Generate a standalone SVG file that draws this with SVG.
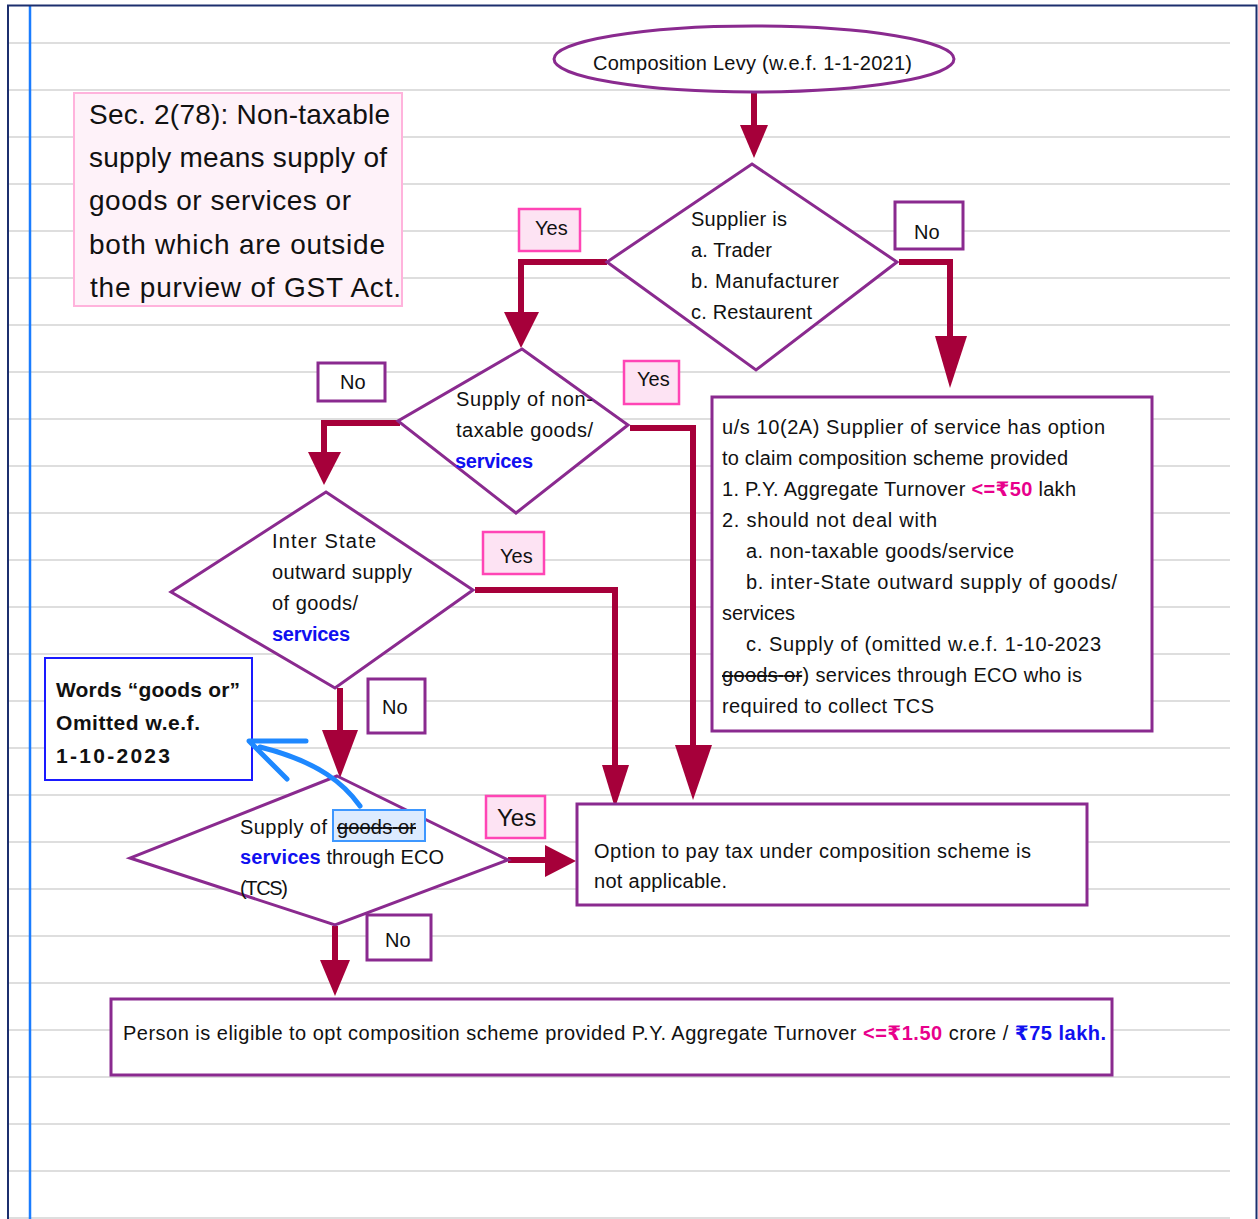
<svg xmlns="http://www.w3.org/2000/svg" width="1258" height="1219" viewBox="0 0 1258 1219">
  <defs>
    <style>
      text { font-family: "Liberation Sans", "DejaVu Sans", sans-serif; fill: #111; }
      .rule { stroke: #dedede; stroke-width: 2; }
      .shape { fill: #fff; stroke: #8a2a8f; stroke-width: 3; }
      .nobox { fill: #fff; stroke: #8a2a8f; stroke-width: 3; }
      .yesbox { fill: #fde3f3; stroke: #ff45b5; stroke-width: 2.5; }
      .flow { fill: none; stroke: #a6003a; stroke-width: 6; stroke-linejoin: miter; }
      .head { fill: #a6003a; }
      .callout { fill: none; stroke: #1e88ff; stroke-width: 5; stroke-linecap: round; stroke-linejoin: round; }
      .t20 { font-size: 20px; }
      .t19 { font-size: 19px; }
      .blue { fill: #1010f0; font-weight: bold; }
      .pink { fill: #e8008c; font-weight: bold; }
      .strike { text-decoration: line-through; }
    </style>
  </defs>

  <!-- notebook page -->
  <rect x="0" y="0" width="1258" height="1219" fill="#fff"/>
  <g id="ruling">
    <line class="rule" x1="9" y1="43" x2="1230" y2="43"/>
    <line class="rule" x1="9" y1="90" x2="1230" y2="90"/>
    <line class="rule" x1="9" y1="137" x2="1230" y2="137"/>
    <line class="rule" x1="9" y1="184" x2="1230" y2="184"/>
    <line class="rule" x1="9" y1="231" x2="1230" y2="231"/>
    <line class="rule" x1="9" y1="278" x2="1230" y2="278"/>
    <line class="rule" x1="9" y1="325" x2="1230" y2="325"/>
    <line class="rule" x1="9" y1="372" x2="1230" y2="372"/>
    <line class="rule" x1="9" y1="419" x2="1230" y2="419"/>
    <line class="rule" x1="9" y1="466" x2="1230" y2="466"/>
    <line class="rule" x1="9" y1="513" x2="1230" y2="513"/>
    <line class="rule" x1="9" y1="560" x2="1230" y2="560"/>
    <line class="rule" x1="9" y1="607" x2="1230" y2="607"/>
    <line class="rule" x1="9" y1="654" x2="1230" y2="654"/>
    <line class="rule" x1="9" y1="701" x2="1230" y2="701"/>
    <line class="rule" x1="9" y1="748" x2="1230" y2="748"/>
    <line class="rule" x1="9" y1="795" x2="1230" y2="795"/>
    <line class="rule" x1="9" y1="842" x2="1230" y2="842"/>
    <line class="rule" x1="9" y1="889" x2="1230" y2="889"/>
    <line class="rule" x1="9" y1="936" x2="1230" y2="936"/>
    <line class="rule" x1="9" y1="983" x2="1230" y2="983"/>
    <line class="rule" x1="9" y1="1030" x2="1230" y2="1030"/>
    <line class="rule" x1="9" y1="1077" x2="1230" y2="1077"/>
    <line class="rule" x1="9" y1="1124" x2="1230" y2="1124"/>
    <line class="rule" x1="9" y1="1171" x2="1230" y2="1171"/>
    <line class="rule" x1="9" y1="1218" x2="1230" y2="1218"/>
    <line x1="30" y1="6" x2="30" y2="1219" stroke="#1a7cff" stroke-width="2.5"/>
    <path d="M8,1219 V5.5 H1256.5 V1219" fill="none" stroke="#1c2f6e" stroke-width="2"/>
  </g>

  <!-- definition note -->
  <g id="note-sec278">
    <rect x="74" y="93" width="328" height="213" fill="#fef2f9" stroke="#ffb3dc" stroke-width="2"/>
    <text x="89" y="124" font-size="28" textLength="301">Sec. 2(78): Non-taxable</text>
    <text x="89" y="167" font-size="28" textLength="298">supply means supply of</text>
    <text x="89" y="210" font-size="28" textLength="262">goods or services or</text>
    <text x="89" y="254" font-size="28" textLength="296">both which are outside</text>
    <text x="90" y="297" font-size="28" textLength="311">the purview of GST Act.</text>
  </g>

  <!-- connectors -->
  <g id="connectors">
    <line class="flow" x1="754" y1="92" x2="754" y2="128"/>
    <polygon class="head" points="740,125 768,125 754,158"/>

    <polyline class="flow" points="607,262 521,262 521,315"/>
    <polygon class="head" points="504,312 539,312 521,348"/>

    <polyline class="flow" points="899,262 950,262 950,340"/>
    <polygon class="head" points="935,336 967,336 950,388"/>

    <polyline class="flow" points="400,423 324,423 324,455"/>
    <polygon class="head" points="308,452 341,452 324,485"/>

    <polyline class="flow" points="630,428 693,428 693,750"/>
    <polygon class="head" points="675,745 712,745 693,800"/>

    <polyline class="flow" points="475,590 615,590 615,770"/>
    <polygon class="head" points="602,765 629,765 615,808"/>

    <line class="flow" x1="340" y1="688" x2="340" y2="735"/>
    <polygon class="head" points="322,730 358,730 340,778"/>

    <line class="flow" x1="508" y1="860" x2="548" y2="860"/>
    <polygon class="head" points="545,845 545,877 576,861"/>

    <line class="flow" x1="335" y1="926" x2="335" y2="963"/>
    <polygon class="head" points="320,960 350,960 335,996"/>
  </g>

  <!-- start -->
  <g id="start">
    <ellipse class="shape" cx="754" cy="59" rx="200" ry="33"/>
    <text x="593" y="70" class="t20" textLength="319">Composition Levy (w.e.f. 1-1-2021)</text>
  </g>

  <!-- decision: supplier type -->
  <g id="dec-supplier">
    <polygon class="shape" points="752,164 897,262 756,370 607,262"/>
    <text x="691" y="226" class="t20" textLength="96">Supplier is</text>
    <text x="691" y="257" class="t20" textLength="81">a. Trader</text>
    <text x="691" y="288" class="t20" textLength="148">b. Manufacturer</text>
    <text x="691" y="319" class="t20" textLength="121">c. Restaurent</text>
  </g>
  <g id="lbl-yes-1"><rect class="yesbox" x="519" y="209" width="61" height="42"/><text x="535" y="235" class="t20">Yes</text></g>
  <g id="lbl-no-1"><rect class="nobox" x="895" y="202" width="68" height="47"/><text x="914" y="239" class="t20">No</text></g>

  <!-- decision: non-taxable supply -->
  <g id="dec-nontaxable">
    <polygon class="shape" points="522,349 628,425 516,513 398,421"/>
    <text x="456" y="406" class="t20" textLength="137">Supply of non-</text>
    <text x="456" y="437" class="t20" textLength="137">taxable goods/</text>
    <text x="455" y="468" class="t20 blue" textLength="78">services</text>
  </g>
  <g id="lbl-yes-2"><rect class="yesbox" x="624" y="361" width="55" height="43"/><text x="637" y="386" class="t20">Yes</text></g>
  <g id="lbl-no-2"><rect class="nobox" x="318" y="363" width="67" height="38"/><text x="340" y="389" class="t20">No</text></g>

  <!-- service provider option -->
  <g id="box-10-2a">
    <rect class="shape" x="712" y="397" width="440" height="334"/>
    <text x="722" y="434" class="t20" textLength="383">u/s 10(2A) Supplier of service has option</text>
    <text x="722" y="465" class="t20" textLength="346">to claim composition scheme provided</text>
    <text x="722" y="496" class="t20" textLength="354">1. P.Y. Aggregate Turnover <tspan class="pink">&lt;=₹50</tspan> lakh</text>
    <text x="722" y="527" class="t20" textLength="215">2. should not deal with</text>
    <text x="746" y="558" class="t20" textLength="268">a. non-taxable goods/service</text>
    <text x="746" y="589" class="t20" textLength="371">b. inter-State outward supply of goods/</text>
    <text x="722" y="620" class="t20" textLength="73">services</text>
    <text x="746" y="651" class="t20" textLength="355">c. Supply of (omitted w.e.f. 1-10-2023</text>
    <text x="722" y="682" class="t20" textLength="360"><tspan class="strike">goods or</tspan>) services through ECO who is</text>
    <text x="722" y="713" class="t20" textLength="212">required to collect TCS</text>
  </g>

  <!-- decision: inter-State supply -->
  <g id="dec-interstate">
    <polygon class="shape" points="326,492 473,590 335,688 171,592"/>
    <text x="272" y="548" class="t20" textLength="104">Inter State</text>
    <text x="272" y="579" class="t20" textLength="140">outward supply</text>
    <text x="272" y="610" class="t20" textLength="86">of goods/</text>
    <text x="272" y="641" class="t20 blue" textLength="78">services</text>
  </g>
  <g id="lbl-yes-3"><rect class="yesbox" x="483" y="532" width="61" height="42"/><text x="500" y="563" class="t20">Yes</text></g>
  <g id="lbl-no-3"><rect class="nobox" x="368" y="679" width="57" height="54"/><text x="382" y="714" class="t20">No</text></g>

  <!-- amendment note -->
  <g id="note-omitted">
    <rect x="45" y="658" width="207" height="122" fill="#fff" stroke="#1a1aff" stroke-width="2"/>
    <text x="56" y="697" font-size="21" font-weight="bold" textLength="184">Words “goods or”</text>
    <text x="56" y="730" font-size="21" font-weight="bold" textLength="144">Omitted w.e.f.</text>
    <text x="56" y="763" font-size="21" font-weight="bold" textLength="114">1-10-2023</text>
  </g>

  <!-- decision: supply through ECO -->
  <g id="dec-eco">
    <polygon class="shape" points="337,776 508,860 335,925 130,858"/>
    <rect x="333" y="810" width="92" height="31" fill="#dcebff" stroke="#3d97ff" stroke-width="2"/>
    <text x="240" y="834" class="t20" textLength="87">Supply of</text>
    <text x="337" y="834" class="t20 strike" textLength="79">goods or</text>
    <text x="240" y="864" class="t20" textLength="204"><tspan class="blue">services</tspan> through ECO</text>
    <text x="240" y="895" class="t20" textLength="48">(TCS)</text>
  </g>
  <g id="lbl-yes-4"><rect class="yesbox" x="486" y="796" width="59" height="42"/><text x="497" y="826" font-size="24">Yes</text></g>
  <g id="lbl-no-4"><rect class="nobox" x="367" y="915" width="64" height="45"/><text x="385" y="947" class="t20">No</text></g>

  <!-- callout from the struck-out words to the note -->
  <g id="callout-arrow">
    <path class="callout" d="M360,806 C345,785 320,762 260,747"/>
    <polyline class="callout" points="306,741 249,741 287,779"/>
  </g>

  <!-- outcome: not applicable -->
  <g id="box-not-applicable">
    <rect class="shape" x="577" y="804" width="510" height="101"/>
    <text x="594" y="858" class="t20" textLength="437">Option to pay tax under composition scheme is</text>
    <text x="594" y="888" class="t20" textLength="133">not applicable.</text>
  </g>

  <!-- outcome: eligible -->
  <g id="box-eligible">
    <rect class="shape" x="111" y="999" width="1001" height="76"/>
    <text x="123" y="1040" class="t20" textLength="983">Person is eligible to opt composition scheme provided P.Y. Aggregate Turnover <tspan class="pink">&lt;=₹1.50</tspan> crore / <tspan class="blue">₹75 lakh.</tspan></text>
  </g>
</svg>
